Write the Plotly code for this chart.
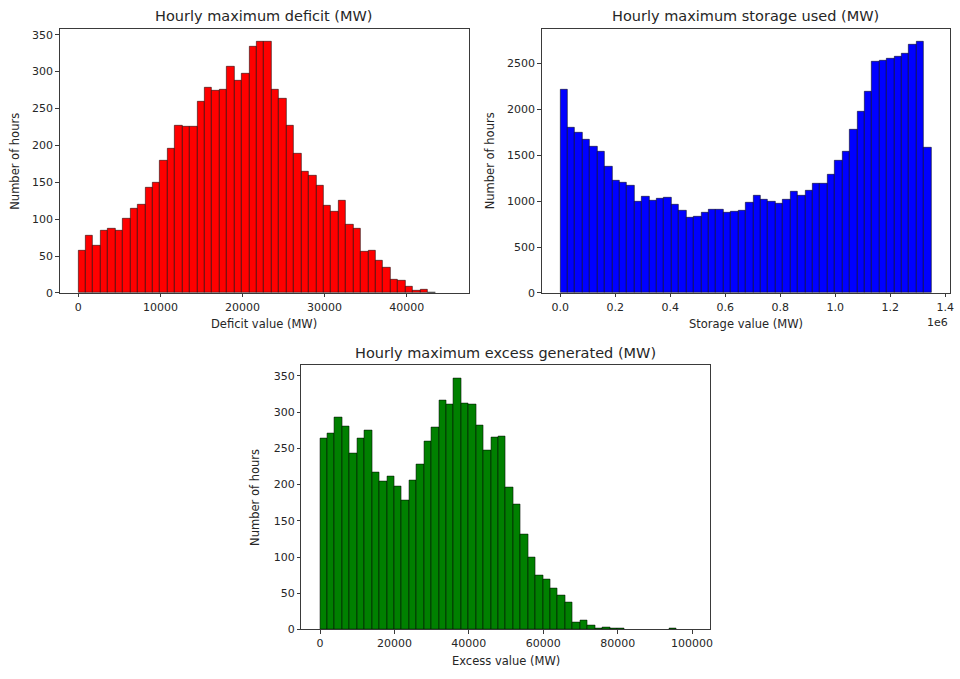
import numpy as np
import plotly.graph_objects as go

# ---------------- data ----------------
deficit_range = [0, 45300]
deficit_counts = [57, 77, 64, 84, 87, 85, 100, 114, 120, 143,
                  149, 179, 196, 227, 225, 225, 259, 278, 274, 276,
                  306, 287, 297, 333, 341, 341, 276, 263, 227, 189,
                  164, 159, 146, 118, 110, 125, 92, 87, 56, 57,
                  44, 34, 18, 16, 9, 3, 5, 1, 0, 0]

storage_range = [0, 1350000]
storage_counts = [2212, 1801, 1747, 1668, 1589, 1535, 1380, 1218, 1203, 1164,
                  994, 1045, 1005, 1030, 1041, 965, 901, 821, 832, 875,
                  911, 911, 875, 886, 901, 980, 1059, 1019, 994, 969,
                  1019, 1099, 1059, 1110, 1192, 1192, 1286, 1445, 1535, 1780,
                  1974, 2187, 2514, 2529, 2554, 2569, 2608, 2702, 2741, 1578]

excess_range = [0, 99900]
excess_counts = [264, 270, 292, 280, 243, 264, 275, 216, 204, 211,
                 198, 178, 206, 228, 260, 279, 316, 311, 347, 312,
                 311, 282, 247, 265, 267, 196, 172, 131, 100, 75,
                 69, 57, 47, 37, 10, 13, 5, 2, 3, 1,
                 1, 0, 0, 0, 0, 0, 0, 2, 0, 0]

deficit_ticks = [0, 10000, 20000, 30000, 40000]
deficit_ticktext = ["0", "10000", "20000", "30000", "40000"]
storage_ticks = [0, 200000, 400000, 600000, 800000, 1000000, 1200000, 1400000]
storage_ticktext = ["0.0", "0.2", "0.4", "0.6", "0.8", "1.0", "1.2", "1.4"]
excess_ticks = [0, 20000, 40000, 60000, 80000, 100000]
excess_ticktext = ["0", "20000", "40000", "60000", "80000", "100000"]
count_ticks_small = [0, 50, 100, 150, 200, 250, 300, 350]
count_ticks_large = [0, 500, 1000, 1500, 2000, 2500]

W, H = 960, 679
FONT = "DejaVu Sans"
TXT = "#262626"
AX = "#3a3a3a"


def px(x):
    return x / W


def py(y):
    return 1 - y / H


def bars(rng, counts, color, xa, ya):
    n = len(counts)
    edges = np.linspace(rng[0], rng[1], n + 1)
    centers = (edges[:-1] + edges[1:]) / 2
    lw = [0.8 if c > 0 else 0 for c in counts]
    return go.Bar(x=centers, y=counts, width=edges[1] - edges[0],
                  marker=dict(color=color, line=dict(color="rgba(0,0,0,0.65)", width=lw)),
                  xaxis=xa, yaxis=ya, showlegend=False, hoverinfo="x+y")


fig = go.Figure()
fig.add_trace(bars(deficit_range, deficit_counts, "#ff0000", "x", "y"))
fig.add_trace(bars(storage_range, storage_counts, "#0000ff", "x2", "y2"))
fig.add_trace(bars(excess_range, excess_counts, "#008000", "x3", "y3"))


def xr(rng):
    m = (rng[1] - rng[0]) * 0.05
    return [rng[0] - m, rng[1] + m]


def yr(counts):
    return [0, max(counts) * 1.05]


axis_common = dict(showline=True, mirror=True, linecolor=AX, linewidth=1,
                   ticks="outside", ticklen=3.5, tickwidth=1, tickcolor=AX,
                   showgrid=False, zeroline=False,
                   tickfont=dict(family=FONT, size=11, color=TXT))

# panel pixel boxes: (left, right, top, bottom)
p1 = (60, 470.7, 29, 296)
p2 = (544, 954, 29, 296)
p3 = (302.7, 713.3, 369.3, 636)

fig.update_layout(
    width=W, height=H, margin=dict(l=0, r=0, t=0, b=0),
    paper_bgcolor="white", plot_bgcolor="white", bargap=0,
    xaxis=dict(domain=[px(p1[0]), px(p1[1])], range=xr(deficit_range),
               tickvals=deficit_ticks, ticktext=deficit_ticktext, anchor="y", **axis_common),
    yaxis=dict(domain=[py(p1[3]), py(p1[2])], range=yr(deficit_counts),
               tickvals=count_ticks_small, anchor="x", **axis_common),
    xaxis2=dict(domain=[px(p2[0]), px(p2[1])], range=xr(storage_range),
                tickvals=storage_ticks, ticktext=storage_ticktext, anchor="y2", **axis_common),
    yaxis2=dict(domain=[py(p2[3]), py(p2[2])], range=yr(storage_counts),
                tickvals=count_ticks_large, anchor="x2", **axis_common),
    xaxis3=dict(domain=[px(p3[0]), px(p3[1])], range=xr(excess_range),
                tickvals=excess_ticks, ticktext=excess_ticktext, anchor="y3", **axis_common),
    yaxis3=dict(domain=[py(p3[3]), py(p3[2])], range=yr(excess_counts),
                tickvals=count_ticks_small, anchor="x3", **axis_common),
)


def note(text, x, y, size, angle=0, xanchor="center"):
    fig.add_annotation(text=text, x=px(x), y=py(y), xref="paper", yref="paper",
                       showarrow=False, xanchor=xanchor, yanchor="middle", textangle=angle,
                       font=dict(family=FONT, size=size, color=TXT))


# titles
note("Hourly maximum deficit (MW)", (p1[0] + p1[1]) / 2, 16.5, 14.5)
note("Hourly maximum storage used (MW)", (p2[0] + p2[1]) / 2, 16.5, 14.5)
note("Hourly maximum excess generated (MW)", (p3[0] + p3[1]) / 2, 357, 14.5)
# x labels
note("Deficit value (MW)", (p1[0] + p1[1]) / 2, 327, 11.5)
note("Storage value (MW)", (p2[0] + p2[1]) / 2, 327, 11.5)
note("Excess value (MW)", (p3[0] + p3[1]) / 2, 668, 11.5)
# y labels
note("Number of hours", 15, (p1[2] + p1[3]) / 2, 11.5, -90)
note("Number of hours", 491.5, (p2[2] + p2[3]) / 2, 11.5, -90)
note("Number of hours", 256.5, (p3[2] + p3[3]) / 2, 11.5, -90)
# offset text
note("1e6", 954, 326, 11, xanchor="right")

fig.write_html("out.html")
